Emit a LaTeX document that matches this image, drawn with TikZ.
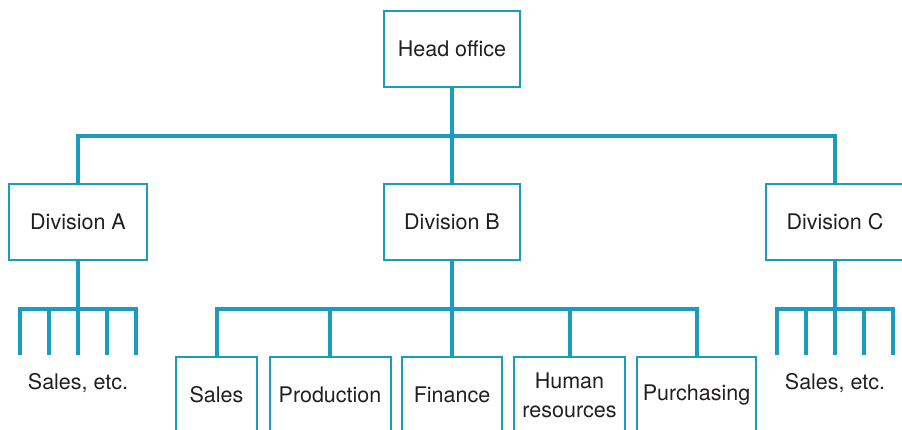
\documentclass[tikz,border=0pt]{standalone}
\usepackage{fontspec}
\setmainfont{TeX Gyre Heros}
\usetikzlibrary{positioning}
\definecolor{orgblue}{RGB}{26,156,190}
\definecolor{ink}{RGB}{35,31,32}

\begin{document}
\begin{tikzpicture}[x=1pt,y=-1pt,
box/.style={draw=orgblue,line width=2pt,fill=white,align=center,text=ink,
 font=\fontsize{21.5}{29}\selectfont,minimum height=76pt,inner sep=0pt},
link/.style={orgblue,line width=4pt},
lbl/.style={text=ink,font=\fontsize{21.5}{29}\selectfont}]
 \useasboundingbox (0,0) rectangle (902,429);
 \clip (0,0) rectangle (902,429);
 % top level
 \node[box,minimum width=136pt] (head) at (452,49) {Head office};
 \node[box,minimum width=138pt] (divA) at (78,222) {Division A};
 \node[box,minimum width=136pt] (divB) at (452,222) {Division B};
 \node[box,minimum width=138pt] (divC) at (835,222) {Division C};
 \coordinate (hbus) at (452,136);
 \draw[link] (divA.north) |- (hbus) -| (divC.north);
 \draw[link] (head.south) -- (divB.north);
 % departments of division B
 \node[box,minimum width=81pt] (sales) at (216.5,395) {Sales};
 \node[box,minimum width=121pt] (prod) at (330,395) {Production};
 \node[box,minimum width=100pt] (fin) at (452,395) {Finance};
 \node[box,minimum width=111pt] (hr) at (569.5,395) {Human\\resources};
 \node[box,minimum width=119pt] (purch) at (696.5,395) {Purchasing};
 \coordinate (busB) at (452,309);
 \draw[link] (sales.north) |- (busB) -| (purch.north);
 \draw[link] (divB.south) -- (fin.north);
 \foreach \X in {prod,hr}
 {\draw[link] (\X.north) -- (\X.north |- busB);}
 % divisions A and C
 \node[lbl] (etcA) at (78,383) {Sales, etc.};
 \node[lbl] (etcC) at (835,383) {Sales, etc.};
 \foreach \X/\Y in {A/78,C/835}
 {\coordinate (bus\X) at (\Y,309);
 \draw[link] (div\X.south) -- (bus\X);
 \draw[link] (bus\X) ++(-58,46) |- (bus\X) -| ++(58,46);
 \draw[link] (bus\X) -- ++(0,46);
 \draw[link] (bus\X) ++(-29,0) -- ++(0,46);
 \draw[link] (bus\X) ++(29,0) -- ++(0,46);}
\end{tikzpicture}
\end{document}
